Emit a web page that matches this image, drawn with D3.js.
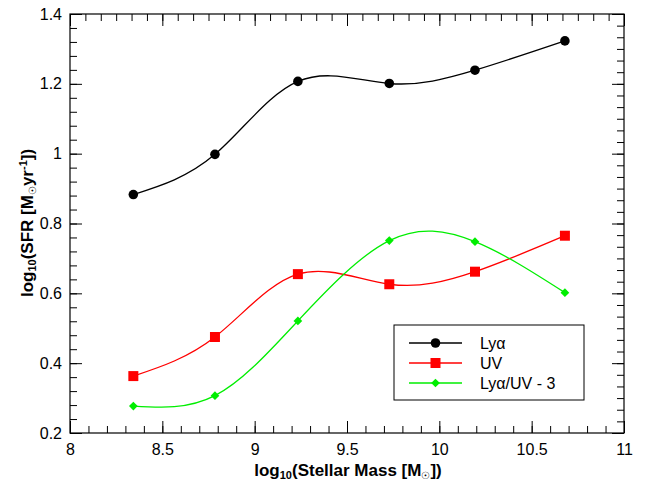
<!DOCTYPE html>
<html>
<head>
<meta charset="utf-8">
<script src="https://cdn.jsdelivr.net/npm/d3@7"></script>
<style>
  body { margin: 0; background: #fff; }
  svg { display: block; font-family: "Liberation Sans", Arial, sans-serif; }
</style>
</head>
<body>
<svg id="chart"></svg>
<script>
// stellar mass bins (log10 M*)
const massBins = [8.343, 8.785, 9.234, 9.729, 10.193, 10.68];
// log10 SFR per tracer
const sfrLya = [0.883, 0.998, 1.207, 1.201, 1.239, 1.323];
const sfrUV = [0.363, 0.475, 0.655, 0.626, 0.662, 0.765];
const sfrRatio = [0.277, 0.307, 0.521, 0.751, 0.748, 0.602];
const seriesNames = ["Lyα", "UV", "Lyα/UV - 3"];
const xTicks = [8, 8.5, 9, 9.5, 10, 10.5, 11];
const yTicks = [0.2, 0.4, 0.6, 0.8, 1, 1.2, 1.4];

const width = 649, height = 486;
const margin = { top: 14, right: 25, bottom: 53, left: 70 };

const svg = d3.select("#chart").attr("width", width).attr("height", height);

const x = d3.scaleLinear().domain([8, 11]).range([margin.left, width - margin.right]);
const y = d3.scaleLinear().domain([0.2, 1.4]).range([height - margin.bottom, margin.top]);

const x0 = margin.left, x1 = width - margin.right;
const y0 = height - margin.bottom, y1 = margin.top;

// minor tick helper
function steps(a, b, n) {
  const out = [];
  for (let i = 0; i <= n; i++) out.push(a + (b - a) * i / n);
  return out;
}

function styleAxis(sel) {
  sel.select(".domain").remove();
  sel.selectAll(".tick line").attr("stroke", "#000").attr("stroke-width", 1);
  sel.selectAll("text").attr("fill", "#000").style("font-size", "16px")
    .style("font-family", "'Liberation Sans', Arial, sans-serif");
}

// bottom axis
svg.append("g").attr("transform", `translate(0,${y0})`)
  .call(d3.axisBottom(x).tickValues(steps(8, 11, 30)).tickSize(-7).tickFormat(""))
  .call(styleAxis);
svg.append("g").attr("transform", `translate(0,${y0})`)
  .call(d3.axisBottom(x).tickValues(xTicks).tickSize(-12).tickPadding(11).tickFormat(d3.format("")))
  .call(styleAxis);

// top axis (finer minor division)
svg.append("g").attr("transform", `translate(0,${y1})`)
  .call(d3.axisTop(x).tickValues(steps(8, 11, 36)).tickSize(-7).tickFormat(""))
  .call(styleAxis);
svg.append("g").attr("transform", `translate(0,${y1})`)
  .call(d3.axisTop(x).tickValues(xTicks).tickSize(-12).tickFormat(""))
  .call(styleAxis);

// left axis
svg.append("g").attr("transform", `translate(${x0},0)`)
  .call(d3.axisLeft(y).tickValues(steps(0.2, 1.4, 30)).tickSize(-7).tickFormat(""))
  .call(styleAxis);
svg.append("g").attr("transform", `translate(${x0},0)`)
  .call(d3.axisLeft(y).tickValues(yTicks).tickSize(-12).tickPadding(8).tickFormat(d3.format("")))
  .call(styleAxis);

// right axis
svg.append("g").attr("transform", `translate(${x1},0)`)
  .call(d3.axisRight(y).tickValues(steps(0.2, 1.4, 36)).tickSize(-7).tickFormat(""))
  .call(styleAxis);
svg.append("g").attr("transform", `translate(${x1},0)`)
  .call(d3.axisRight(y).tickValues(yTicks).tickSize(-12).tickFormat(""))
  .call(styleAxis);

// frame
svg.append("rect")
  .attr("x", x0).attr("y", y1)
  .attr("width", x1 - x0).attr("height", y0 - y1)
  .attr("fill", "none").attr("stroke", "#000").attr("stroke-width", 1.2);

const line = d3.line()
  .x((d) => x(d[0]))
  .y((d) => y(d[1]))
  .curve(d3.curveNatural);

const series = [
  { name: seriesNames[0], values: sfrLya, color: "#000", shape: "circle" },
  { name: seriesNames[1], values: sfrUV, color: "#ff0000", shape: "square" },
  { name: seriesNames[2], values: sfrRatio, color: "#00ee00", shape: "diamond" },
];

const symbols = {
  circle: { gen: d3.symbol().type(d3.symbolCircle).size(72), rot: 0 },
  square: { gen: d3.symbol().type(d3.symbolSquare).size(100), rot: 0 },
  diamond: { gen: d3.symbol().type(d3.symbolSquare).size(38), rot: 45 },
};

function drawSymbol(parent, shape, cx, cy, color) {
  const s = symbols[shape];
  parent.append("path")
    .attr("transform", `translate(${cx},${cy}) rotate(${s.rot})`)
    .attr("d", s.gen())
    .attr("fill", color);
}

series.forEach((s) => {
  const pts = massBins.map((m, i) => [m, s.values[i]]);
  svg.append("path")
    .attr("d", line(pts))
    .attr("fill", "none")
    .attr("stroke", s.color)
    .attr("stroke-width", 1.3);
  const grp = svg.append("g");
  pts.forEach((d) => drawSymbol(grp, s.shape, x(d[0]), y(d[1]), s.color));
});

// legend
const legend = svg.append("g").attr("transform", "translate(394,325)");
legend.append("rect")
  .attr("width", 190).attr("height", 75)
  .attr("fill", "#fff").attr("stroke", "#000").attr("stroke-width", 1);

series.forEach((s, i) => {
  const ly = 18 + i * 20;
  legend.append("line")
    .attr("x1", 15).attr("x2", 68)
    .attr("y1", ly).attr("y2", ly)
    .attr("stroke", s.color).attr("stroke-width", 1.3);
  drawSymbol(legend, s.shape, 41.5, ly, s.color);
  legend.append("text")
    .attr("x", 86).attr("y", ly + 6)
    .style("font-size", "16px")
    .text(s.name);
});

// axis titles
const xTitle = svg.append("text")
  .attr("x", (x0 + x1) / 2 + 1).attr("y", 476)
  .attr("text-anchor", "middle")
  .style("font-size", "17px").style("font-weight", "bold");
xTitle.append("tspan").text("log");
xTitle.append("tspan").attr("baseline-shift", "-3").style("font-size", "11px").text("10");
xTitle.append("tspan").text("(Stellar Mass [M");
xTitle.append("tspan").attr("baseline-shift", "-3").style("font-size", "10px")
  .style("font-weight", "normal").text("☉");
xTitle.append("tspan").text("])");

const yTitle = svg.append("text")
  .attr("transform", "translate(33,223) rotate(-90)")
  .attr("text-anchor", "middle")
  .style("font-size", "17px").style("font-weight", "bold");
yTitle.append("tspan").text("log");
yTitle.append("tspan").attr("baseline-shift", "-3").style("font-size", "11px").text("10");
yTitle.append("tspan").text("(SFR [M");
yTitle.append("tspan").attr("baseline-shift", "-3").style("font-size", "10px")
  .style("font-weight", "normal").text("☉");
yTitle.append("tspan").text("yr");
yTitle.append("tspan").attr("baseline-shift", "6").style("font-size", "11px").text("-1");
yTitle.append("tspan").text("])");
</script>
</body>
</html>
